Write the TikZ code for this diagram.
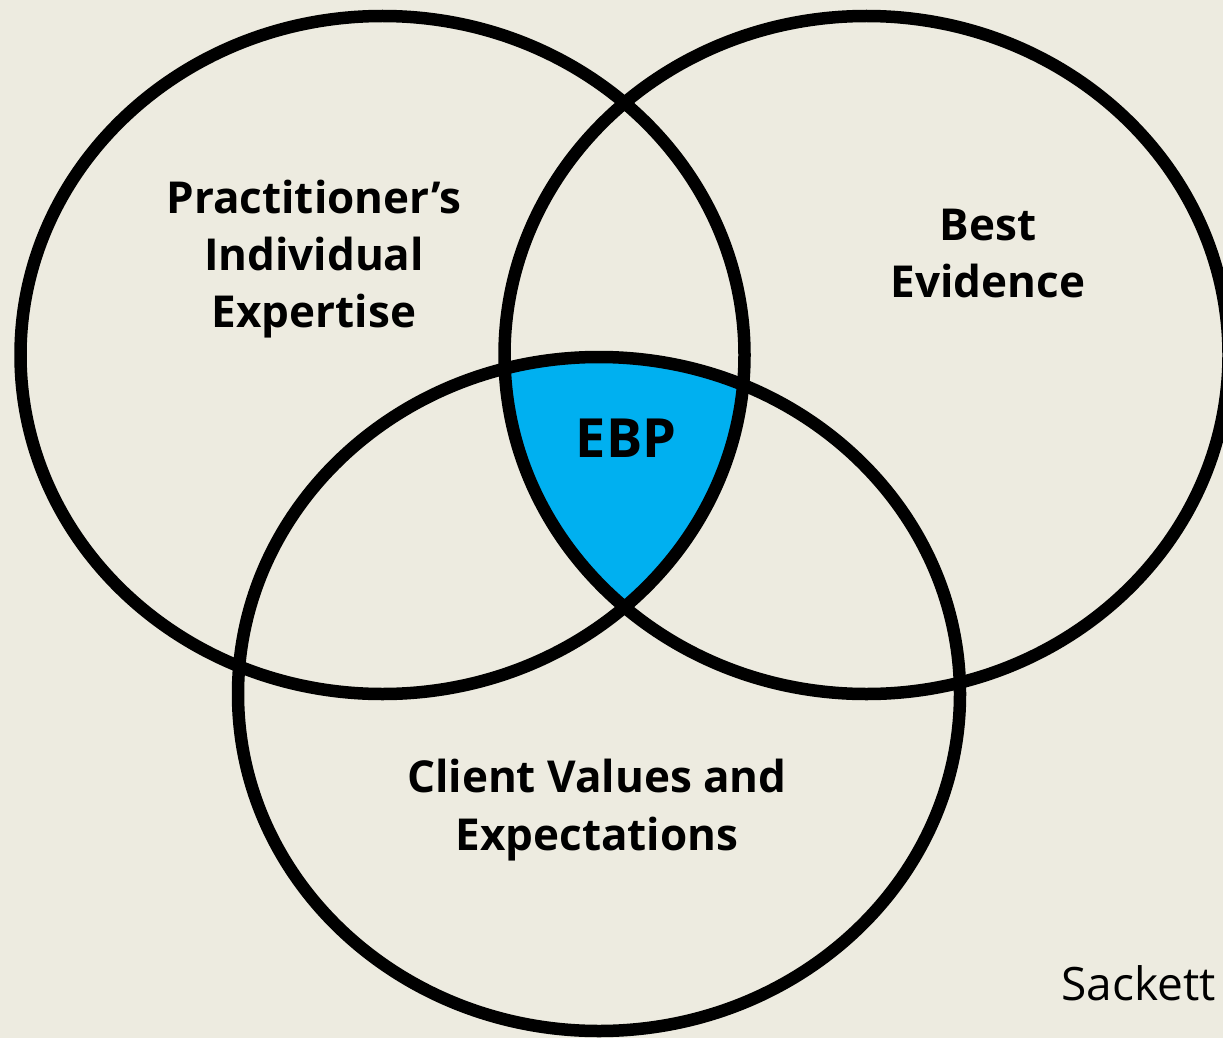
\documentclass[tikz,border=0pt]{standalone}
\usepackage{fontspec}
\setmainfont{Open Sans}
\definecolor{bgcol}{RGB}{237,235,224}
\definecolor{ebpcol}{RGB}{0,176,240}
\begin{document}
\begin{tikzpicture}[x=1pt,y=-1pt,
  ring/.style={line width=12.5pt, draw=black},
  lbl/.style={font=\bfseries\fontsize{44}{57}\selectfont, align=center, text=black, inner sep=0pt},
  ebplbl/.style={font=\bfseries\fontsize{54}{60}\selectfont, text=black, inner sep=0pt},
  cite/.style={font=\fontsize{46}{54}\selectfont, text=black, inner sep=0pt}]
\useasboundingbox (0,0) rectangle (1223,1038);
\fill[bgcol] (0,0) rectangle (1223,1038);
\begin{scope}
  \clip (382.5,355) ellipse [x radius=362pt, y radius=339pt];
  \clip (866.5,355) ellipse [x radius=362pt, y radius=339pt];
  \fill[ebpcol] (599,694) ellipse [x radius=361pt, y radius=337pt];
\end{scope}
\draw[ring] (382.5,355) ellipse [x radius=362pt, y radius=339pt];
\draw[ring] (866.5,355) ellipse [x radius=362pt, y radius=339pt];
\draw[ring] (599,694) ellipse [x radius=361pt, y radius=337pt];
\node[lbl, anchor=base] (pie1) at (314,213) {Practitioner’s};
\node[lbl, anchor=base] (pie2) at (314,270) {Individual};
\node[lbl, anchor=base] (pie3) at (314,327) {Expertise};
\node[lbl, anchor=base] (be1) at (988,240) {Best};
\node[lbl, anchor=base] (be2) at (988,297) {Evidence};
\node[lbl, anchor=base] (cv1) at (597,792) {Client Values and};
\node[lbl, anchor=base] (cv2) at (597,850) {Expectations};
\node[ebplbl, anchor=base] (ebp) at (626,457) {EBP};
\node[cite, anchor=base east] (src) at (1216,1000) {Sackett};
\end{tikzpicture}
\end{document}
